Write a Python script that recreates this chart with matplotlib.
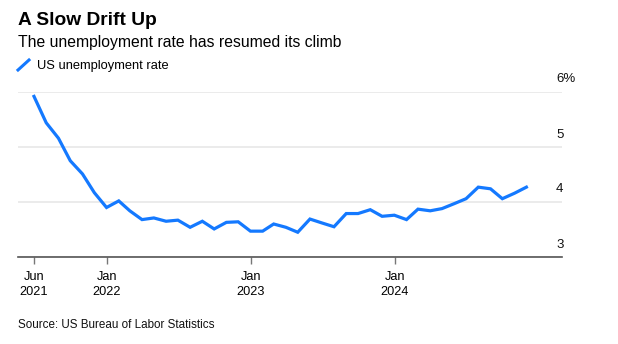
import matplotlib
matplotlib.use('Agg')
import matplotlib.pyplot as plt
import matplotlib.dates as mdates
from matplotlib.lines import Line2D
from matplotlib.transforms import offset_copy
import pandas as pd

plt.rcParams['font.family'] = ['Liberation Sans', 'DejaVu Sans']

# 美国失业率（月度，2021年6月 - 2024年11月）
months = pd.date_range('2021-06-30', periods=42, freq='ME')
unemployment = [
    5.92, 5.44, 5.16, 4.75, 4.51, 4.17, 3.90,                  # 2021
    4.02, 3.84, 3.68, 3.71, 3.65, 3.67, 3.54, 3.65, 3.51, 3.63, 3.64, 3.47,  # 2022
    3.47, 3.60, 3.54, 3.45, 3.69, 3.62, 3.55, 3.79, 3.79, 3.86, 3.74, 3.76,  # 2023
    3.68, 3.87, 3.84, 3.88, 3.97, 4.06, 4.27, 4.24, 4.06, 4.16, 4.27,        # 2024
]
x_ticks = pd.to_datetime(['2021-06-30', '2022-01-01', '2023-01-01', '2024-01-01'])
x_labels = ['Jun\n2021', 'Jan\n2022', 'Jan\n2023', 'Jan\n2024']
y_ticks = [3, 4, 5, 6]
y_labels = ['3', '4', '5', '6%']

BLUE = '#1479ff'
W, H = 618, 344

fig = plt.figure(figsize=(W / 100, H / 100), dpi=100)
ax = fig.add_axes([18 / W, (H - 257) / H, 544 / W, 165 / H])

ax.plot(months, unemployment, color=BLUE, linewidth=2.3, solid_joinstyle='miter', zorder=3)

# 横轴范围：每月约12像素
px_per_day = 12 / 30.44
d0 = months[0]
ax.set_xlim(d0 - pd.Timedelta(days=16 / px_per_day), d0 + pd.Timedelta(days=528 / px_per_day))
ax.set_ylim(3, 6)

for s in ['top', 'right', 'left']:
    ax.spines[s].set_visible(False)
ax.spines['bottom'].set_color('#555555')
ax.spines['bottom'].set_linewidth(1.2)

ax.set_xticks(x_ticks)
ax.set_xticklabels(x_labels, fontsize=9.2, linespacing=1.38)
ax.tick_params(axis='x', length=5, width=1, color='#777777', pad=5)

ax.set_yticks(y_ticks)
ax.set_yticklabels([])
ax.tick_params(axis='y', length=0)
ax.grid(True, axis='y', color='#e8e8e8', linewidth=1.2)
ax.set_axisbelow(True)

# 右侧刻度标签放在网格线上方
label_tr = offset_copy(ax.get_yaxis_transform(), fig=fig, x=0, y=9, units='points')
for v, lab in zip(y_ticks, y_labels):
    ax.text(538 / 544, v, lab, transform=label_tr, ha='left', va='center',
            fontsize=9.5, color='#111111', clip_on=False)

# 标题、副标题
fig.text(18 / W, 1 - 25 / H, 'A Slow Drift Up', fontsize=13.8, fontweight='bold',
         ha='left', va='baseline')
fig.text(18 / W, 1 - 47 / H, 'The unemployment rate has resumed its climb', fontsize=11.3,
         ha='left', va='baseline')

# 图例
fig.add_artist(Line2D([18 / W, 29 / W], [1 - 70 / H, 1 - 60 / H], color=BLUE,
                      linewidth=2.2, transform=fig.transFigure))
fig.text(37 / W, 1 - 69.5 / H, 'US unemployment rate', fontsize=9.3, ha='left', va='baseline')

fig.text(18 / W, 1 - 328 / H, 'Source: US Bureau of Labor Statistics', fontsize=8.4,
         ha='left', va='baseline', color='#111111')

fig.savefig('out.png', dpi=100)
